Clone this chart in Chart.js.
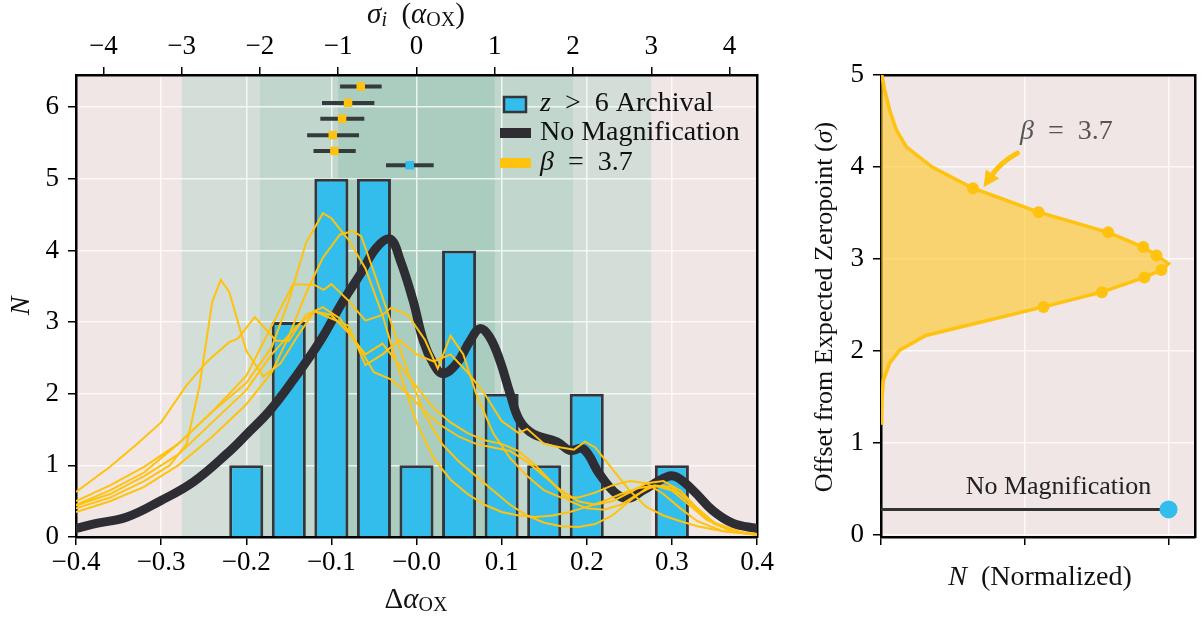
<!DOCTYPE html>
<html lang="en">
<head>
<meta charset="UTF-8" />
<title>alpha_OX offsets</title>
<script src="https://cdn.jsdelivr.net/npm/chart.js"></script>
<style>
  body { margin: 0; background: #fff; }
  #left { position: absolute; left: 0; top: 0; }
  #right { position: absolute; left: 790px; top: 0; }
</style>
</head>
<body>
<canvas id="left" width="790" height="620"></canvas>
<canvas id="right" width="414" height="620"></canvas>
<script>
// ---- left panel data ----
const binCenters = [-0.2, -0.15, -0.1, -0.05, 0.0, 0.05, 0.1, 0.15, 0.2, 0.3];
const binCounts = [1, 3, 5, 5, 1, 4, 2, 1, 2, 1];

const noMagX = [-0.40, -0.38, -0.34, -0.30, -0.262, -0.223, -0.199, -0.172, -0.145, -0.113, -0.086, -0.066,
  -0.047, -0.031, -0.019, -0.004, 0.008, 0.020, 0.031, 0.047, 0.063, 0.0745, 0.086, 0.098, 0.110, 0.121,
  0.137, 0.165, 0.180, 0.196, 0.215, 0.235, 0.249, 0.266, 0.294, 0.305, 0.325, 0.348, 0.372, 0.40];
const noMagY = [0.12, 0.18, 0.28, 0.51, 0.77, 1.16, 1.44, 1.77, 2.19, 2.74, 3.30, 3.67,
  4.04, 4.16, 3.86, 3.30, 2.74, 2.42, 2.28, 2.42, 2.74, 2.91, 2.79, 2.46, 2.00, 1.63,
  1.44, 1.33, 1.21, 1.23, 0.88, 0.60, 0.54, 0.65, 0.84, 0.84, 0.65, 0.37, 0.19, 0.12];

// beta = 3.7 realisations, [dAlpha, N]
const betaA = [[-0.40,0.40],[-0.36,0.55],[-0.32,0.78],[-0.29,1.00],[-0.27,1.30],[-0.255,2.10],[-0.24,3.28],[-0.23,3.59],
  [-0.22,3.42],[-0.20,2.60],[-0.18,2.24],[-0.16,2.42],[-0.14,2.80],[-0.12,3.15],[-0.10,3.10],[-0.08,2.85],[-0.06,2.55],
  [-0.04,2.70],[-0.02,2.40],[0.00,2.10],[0.02,1.80],[0.04,1.60],[0.06,1.45],[0.08,1.35],[0.10,1.30],[0.12,1.20],
  [0.14,1.00],[0.16,0.75],[0.18,0.50],[0.20,0.40],[0.22,0.38],[0.24,0.45],[0.26,0.60],[0.28,0.72],[0.30,0.70],
  [0.32,0.50],[0.34,0.25],[0.37,0.08],[0.40,0.03]];
const betaB = [[-0.40,0.45],[-0.36,0.65],[-0.32,0.90],[-0.28,1.30],[-0.24,1.75],[-0.20,2.15],[-0.17,2.65],[-0.15,3.30],
  [-0.13,4.10],[-0.11,4.52],[-0.10,4.45],[-0.08,4.15],[-0.06,3.75],[-0.04,3.10],[-0.02,2.30],[0.00,1.60],[0.02,1.10],
  [0.04,0.80],[0.06,0.60],[0.08,0.45],[0.10,0.35],[0.12,0.30],[0.14,0.28],[0.16,0.30],[0.18,0.35],[0.20,0.42],
  [0.22,0.50],[0.24,0.60],[0.26,0.68],[0.28,0.72],[0.30,0.65],[0.32,0.45],[0.34,0.25],[0.37,0.08],[0.40,0.03]];
const betaC = [[-0.40,0.35],[-0.36,0.50],[-0.32,0.70],[-0.28,1.00],[-0.24,1.40],[-0.20,1.85],[-0.17,2.30],[-0.15,2.80],
  [-0.13,3.40],[-0.11,3.90],[-0.09,4.22],[-0.075,4.27],[-0.065,4.20],[-0.05,3.70],[-0.03,3.00],[-0.01,2.30],[0.01,1.70],
  [0.03,1.30],[0.05,1.05],[0.07,0.85],[0.09,0.65],[0.11,0.45],[0.13,0.30],[0.15,0.20],[0.17,0.15],[0.19,0.14],
  [0.21,0.18],[0.23,0.30],[0.25,0.50],[0.27,0.68],[0.29,0.72],[0.31,0.60],[0.33,0.38],[0.35,0.18],[0.38,0.06],[0.40,0.03]];
const betaD = [[-0.40,0.63],[-0.36,0.98],[-0.33,1.28],[-0.30,1.60],[-0.27,2.12],[-0.245,2.46],[-0.22,2.72],[-0.21,2.77],
  [-0.19,3.07],[-0.165,2.74],[-0.15,2.74],[-0.13,3.10],[-0.11,3.21],[-0.09,3.05],[-0.07,2.70],[-0.05,2.30],[-0.03,2.20],
  [-0.01,2.00],[0.01,1.75],[0.03,1.55],[0.05,1.40],[0.07,1.30],[0.09,1.25],[0.11,1.20],[0.13,1.05],[0.15,0.85],
  [0.17,0.65],[0.19,0.50],[0.21,0.45],[0.23,0.50],[0.25,0.62],[0.27,0.75],[0.29,0.78],[0.31,0.65],[0.33,0.40],
  [0.35,0.20],[0.38,0.07],[0.40,0.04]];
const betaE = [[-0.40,0.50],[-0.36,0.72],[-0.32,0.98],[-0.28,1.30],[-0.24,1.75],[-0.20,2.25],[-0.17,2.95],[-0.145,3.53],
  [-0.12,3.52],[-0.109,3.45],[-0.10,3.53],[-0.08,3.30],[-0.06,3.02],[-0.04,3.10],[-0.03,3.20],[-0.01,3.10],[0.01,2.75],
  [0.025,2.35],[0.04,2.81],[0.055,2.55],[0.07,2.00],[0.09,1.45],[0.11,1.10],[0.13,0.85],[0.15,0.65],[0.17,0.55],
  [0.19,0.55],[0.21,0.62],[0.23,0.72],[0.25,0.78],[0.27,0.75],[0.29,0.60],[0.31,0.40],[0.33,0.22],[0.36,0.08],[0.40,0.03]];
const betaF = [[-0.40,0.44],[-0.36,0.60],[-0.32,0.85],[-0.28,1.15],[-0.24,1.60],[-0.20,2.05],[-0.17,2.55],[-0.14,2.95],
  [-0.12,3.15],[-0.10,3.05],[-0.08,2.95],[-0.06,2.40],[-0.04,2.55],[-0.02,2.75],[0.00,2.55],[0.02,2.45],[0.04,2.55],
  [0.06,2.30],[0.08,2.00],[0.10,1.62],[0.12,1.45],[0.13,1.51],[0.15,1.30],[0.17,1.25],[0.185,1.22],[0.198,1.33],
  [0.21,1.25],[0.23,0.95],[0.25,0.65],[0.27,0.42],[0.29,0.30],[0.31,0.22],[0.33,0.15],[0.36,0.08],[0.40,0.04]];
const betaCurves = [betaA, betaB, betaC, betaD, betaE, betaF];

// error bars at the top (x centre, lower, upper, row height)
const errY = [6.29, 6.06, 5.84, 5.61, 5.39];
const errX = [-0.0655, -0.0804, -0.0874, -0.0984, -0.0965];
const errLo = [-0.0898, -0.111, -0.113, -0.1285, -0.121];
const errHi = [-0.0409, -0.0495, -0.0613, -0.0675, -0.0714];
const archY = 5.19, archX = -0.008, archLo = -0.0358, archHi = 0.0202;

const xTickLabels = ['\u22120.4', '\u22120.3', '\u22120.2', '\u22120.1', '\u22120.0', '0.1', '0.2', '0.3', '0.4'];
const bandSigma = [3, 2, 1];
const bandColors = ['#d4ded9', '#c1d6cd', '#abcdc0'];

// ---- right panel data ----
const profX = [0.002, 0.004, 0.008, 0.03, 0.065, 0.156, 0.565, 0.768, 0.916, 0.975, 1.0, 0.958, 0.912, 0.79, 0.548, 0.32, 0.178, 0.088, 0.054, 0.03, 0.012, 0.003];
const profY = [1.20, 1.51, 1.68, 1.87, 2.01, 2.17, 2.48, 2.64, 2.80, 2.88, 2.95, 3.04, 3.13, 3.29, 3.51, 3.77, 4.00, 4.22, 4.40, 4.62, 4.85, 5.00];
const markX = [0.565, 0.768, 0.916, 0.975, 0.958, 0.912, 0.79, 0.548, 0.32];
const markY = [2.48, 2.64, 2.80, 2.88, 3.04, 3.13, 3.29, 3.51, 3.77];
const noMagLevel = 0.28;

const YEL = '#ffc20e', BLUE = '#33bdec', DARK = '#2e2d33', PINK = '#efe6e5';
const FONT = 'Liberation Serif';
const tickFont = { family: FONT, size: 27 };
const gridColor = 'rgba(255,255,255,0.75)';

// draw a run of text pieces: [text, italic, size, dy]
function textRun(ctx, parts, x, y, align) {
  let w = 0;
  parts.forEach(p => { ctx.font = (p[1] ? 'italic ' : '') + p[2] + 'px "' + FONT + '"'; w += ctx.measureText(p[0]).width; });
  let cx = align === 'center' ? x - w / 2 : x;
  ctx.textAlign = 'left';
  ctx.textBaseline = 'middle';
  parts.forEach(p => {
    ctx.font = (p[1] ? 'italic ' : '') + p[2] + 'px "' + FONT + '"';
    ctx.fillText(p[0], cx, y + (p[3] || 0));
    cx += ctx.measureText(p[0]).width;
  });
}

const leftDecor = {
  id: 'leftDecor',
  beforeDraw(chart) {
    const { ctx, chartArea: a, scales } = chart;
    ctx.save();
    ctx.fillStyle = PINK;
    ctx.fillRect(a.left, a.top, a.width, a.height);
    bandSigma.forEach((s, i) => {
      const l = scales.x2.getPixelForValue(-s), r = scales.x2.getPixelForValue(s);
      ctx.fillStyle = bandColors[i];
      ctx.fillRect(l, a.top, r - l, a.height);
    });
    ctx.restore();
  },
  afterDraw(chart) {
    const { ctx } = chart;
    ctx.save();
    ctx.fillStyle = '#111';
    textRun(ctx, [['\u03c3', true, 29], ['i', true, 20, 6], ['  (', false, 29], ['\u03b1', true, 29], ['OX', false, 20, 6], [')', false, 29]], 416, 15, 'center');
    textRun(ctx, [['\u0394', false, 29], ['\u03b1', true, 29], ['OX', false, 20, 6]], 416, 600, 'center');
    ctx.save();
    ctx.translate(22, 306);
    ctx.rotate(-Math.PI / 2);
    textRun(ctx, [['N', true, 28]], 0, 0, 'center');
    ctx.restore();

    // legend
    ctx.fillStyle = BLUE;
    ctx.strokeStyle = '#33363b';
    ctx.lineWidth = 2.5;
    ctx.fillRect(504, 97, 22, 15);
    ctx.strokeRect(504, 97, 22, 15);
    ctx.fillStyle = DARK;
    ctx.fillRect(500, 128, 31, 10);
    ctx.fillStyle = YEL;
    ctx.fillRect(500, 158, 31, 10);
    ctx.fillStyle = '#111';
    textRun(ctx, [['z', true, 28], ['  >  6 Archival', false, 28]], 540, 104, 'left');
    textRun(ctx, [['No Magnification', false, 28]], 540, 133, 'left');
    textRun(ctx, [['\u03b2', true, 28], ['  =  3.7', false, 28]], 540, 163, 'left');
    ctx.restore();
  }
};

const datasets = [];
errY.forEach((y, i) => {
  datasets.push({ type: 'line', data: [{ x: errX[i], y }], showLine: false, pointStyle: 'rect', pointRadius: 6,
    pointBackgroundColor: YEL, pointBorderWidth: 0, order: 0 });
  datasets.push({ type: 'line', data: [{ x: errLo[i], y }, { x: errHi[i], y }], borderColor: '#333b3d', borderWidth: 4,
    pointRadius: 0, order: 1 });
});
datasets.push({ type: 'line', data: [{ x: archX, y: archY }], showLine: false, pointStyle: 'rect', pointRadius: 6,
  pointBackgroundColor: BLUE, pointBorderWidth: 0, order: 0 });
datasets.push({ type: 'line', data: [{ x: archLo, y: archY }, { x: archHi, y: archY }], borderColor: '#333b3d', borderWidth: 4,
  pointRadius: 0, order: 1 });
betaCurves.forEach(c => {
  datasets.push({ type: 'line', data: c.map(p => ({ x: p[0], y: p[1] })), borderColor: YEL, borderWidth: 2,
    pointRadius: 0, tension: 0, order: 2 });
});
datasets.push({ type: 'line', data: noMagX.map((x, i) => ({ x, y: noMagY[i] })), borderColor: DARK, borderWidth: 9,
  pointRadius: 0, tension: 0.4, borderCapStyle: 'round', borderJoinStyle: 'round', order: 3 });
datasets.push({ type: 'bar', data: binCenters.map((x, i) => ({ x, y: binCounts[i] })), backgroundColor: BLUE,
  borderColor: '#33363b', borderWidth: 3, barPercentage: 1, categoryPercentage: 0.8, order: 4 });

const axisBorder = { color: '#000', width: 2.5 };
const gridOpts = { color: gridColor, lineWidth: 1.5, tickColor: '#000', tickLength: 8, tickWidth: 1.5 };

new Chart(document.getElementById('left'), {
  type: 'line',
  data: { datasets },
  options: {
    responsive: false,
    animation: false,
    layout: { padding: { left: 0, right: 33, top: 0, bottom: 0 } },
    plugins: { legend: { display: false }, tooltip: { enabled: false } },
    scales: {
      x: {
        type: 'linear', position: 'bottom', min: -0.4, max: 0.4, offset: false,
        afterFit(s) { s.height = 83; },
        ticks: { stepSize: 0.1, autoSkip: false, maxRotation: 0, font: tickFont, color: '#000', padding: 2,
          callback: v => xTickLabels[Math.round(v * 10) + 4] },
        grid: Object.assign({ offset: false }, gridOpts),
        border: axisBorder
      },
      x2: {
        type: 'linear', position: 'top', min: -4.35, max: 4.35,
        afterFit(s) { s.height = 75; },
        ticks: { stepSize: 1, includeBounds: false, autoSkip: false, maxRotation: 0, font: tickFont, color: '#000', padding: 4,
          callback: v => (v < 0 ? '\u2212' : '') + Math.abs(Math.round(v)) },
        grid: Object.assign({}, gridOpts, { drawOnChartArea: false }),
        border: axisBorder
      },
      y: {
        type: 'linear', position: 'left', min: 0, max: 6.45,
        afterFit(s) { s.width = 76; },
        ticks: { stepSize: 1, includeBounds: false, font: tickFont, color: '#000', padding: 9 },
        grid: gridOpts,
        border: axisBorder
      },
      y2: {
        type: 'linear', position: 'right', min: 0, max: 1,
        afterFit(s) { s.width = 0; },
        ticks: { display: false },
        grid: { drawOnChartArea: false, drawTicks: false },
        border: axisBorder
      }
    }
  },
  plugins: [leftDecor]
});

// ---- right panel ----
const rightDecor = {
  id: 'rightDecor',
  beforeDraw(chart) {
    const { ctx, chartArea: a } = chart;
    ctx.save();
    ctx.fillStyle = PINK;
    ctx.fillRect(a.left, a.top, a.width, a.height);
    ctx.restore();
  },
  afterDraw(chart) {
    const { ctx, scales: { x, y } } = chart;
    ctx.save();
    // arrow pointing at the profile
    const sx = x.getPixelForValue(0.474), sy = y.getPixelForValue(4.15);
    const cx = x.getPixelForValue(0.417), cy = y.getPixelForValue(4.06);
    const ex = x.getPixelForValue(0.378), ey = y.getPixelForValue(3.88);
    ctx.strokeStyle = YEL;
    ctx.fillStyle = YEL;
    ctx.lineWidth = 5;
    ctx.lineCap = 'round';
    ctx.beginPath();
    ctx.moveTo(sx, sy);
    ctx.quadraticCurveTo(cx, cy, ex, ey);
    ctx.stroke();
    const ang = Math.atan2(ey - cy, ex - cx);
    const hx = ex + 6 * Math.cos(ang), hy = ey + 6 * Math.sin(ang);
    ctx.beginPath();
    ctx.moveTo(hx + 5 * Math.cos(ang), hy + 5 * Math.sin(ang));
    ctx.lineTo(hx - 11 * Math.cos(ang) + 8 * Math.sin(ang), hy - 11 * Math.sin(ang) - 8 * Math.cos(ang));
    ctx.lineTo(hx - 11 * Math.cos(ang) - 8 * Math.sin(ang), hy - 11 * Math.sin(ang) + 8 * Math.cos(ang));
    ctx.closePath();
    ctx.fill();

    ctx.fillStyle = '#555';
    textRun(ctx, [['\u03b2', true, 28], ['  =  3.7', false, 28]], x.getPixelForValue(0.645), y.getPixelForValue(4.38), 'center');
    ctx.fillStyle = '#222';
    textRun(ctx, [['No Magnification', false, 26]], x.getPixelForValue(0.617), y.getPixelForValue(0.525), 'center');

    ctx.fillStyle = '#111';
    textRun(ctx, [['N', true, 28], ['  (Normalized)', false, 28]], 250, 578, 'center');
    ctx.save();
    ctx.translate(35, 307);
    ctx.rotate(-Math.PI / 2);
    textRun(ctx, [['Offset from Expected Zeropoint (', false, 26], ['\u03c3', true, 26], [')', false, 26]], 0, 0, 'center');
    ctx.restore();
    ctx.restore();
  }
};

new Chart(document.getElementById('right'), {
  type: 'line',
  data: {
    datasets: [
      { indexAxis: 'y', data: profY.map((v, i) => ({ x: profX[i], y: v })), borderColor: YEL, borderWidth: 3.5,
        backgroundColor: 'rgba(255,194,14,0.55)', fill: 'origin', pointRadius: 0, tension: 0, order: 3 },
      { data: markX.map((v, i) => ({ x: v, y: markY[i] })), showLine: false, pointRadius: 6,
        pointBackgroundColor: YEL, pointBorderWidth: 0, order: 2 },
      { data: [{ x: 0, y: noMagLevel }, { x: 1, y: noMagLevel }], borderColor: '#333', borderWidth: 3, pointRadius: 0, order: 1 },
      { data: [{ x: 1, y: noMagLevel }], showLine: false, pointRadius: 9, pointBackgroundColor: BLUE,
        pointBorderWidth: 0, order: 0 }
    ]
  },
  options: {
    responsive: false,
    animation: false,
    layout: { padding: { left: 0, right: 3, top: 0, bottom: 0 } },
    plugins: { legend: { display: false }, tooltip: { enabled: false } },
    scales: {
      x: {
        type: 'linear', position: 'bottom', min: 0, max: 1.092,
        afterFit(s) { s.height = 83; },
        ticks: { stepSize: 0.5, includeBounds: false, display: false },
        grid: gridOpts,
        border: axisBorder
      },
      x2: {
        type: 'linear', position: 'top', min: 0, max: 1,
        afterFit(s) { s.height = 75; },
        ticks: { display: false },
        grid: { drawOnChartArea: false, drawTicks: false },
        border: axisBorder
      },
      y: {
        type: 'linear', position: 'left', min: -0.02, max: 5,
        afterFit(s) { s.width = 91; },
        ticks: { stepSize: 1, includeBounds: false, font: tickFont, color: '#000', padding: 9 },
        grid: gridOpts,
        border: axisBorder
      },
      y2: {
        type: 'linear', position: 'right', min: 0, max: 1,
        afterFit(s) { s.width = 0; },
        ticks: { display: false },
        grid: { drawOnChartArea: false, drawTicks: false },
        border: axisBorder
      }
    }
  },
  plugins: [rightDecor]
});
</script>
</body>
</html>
